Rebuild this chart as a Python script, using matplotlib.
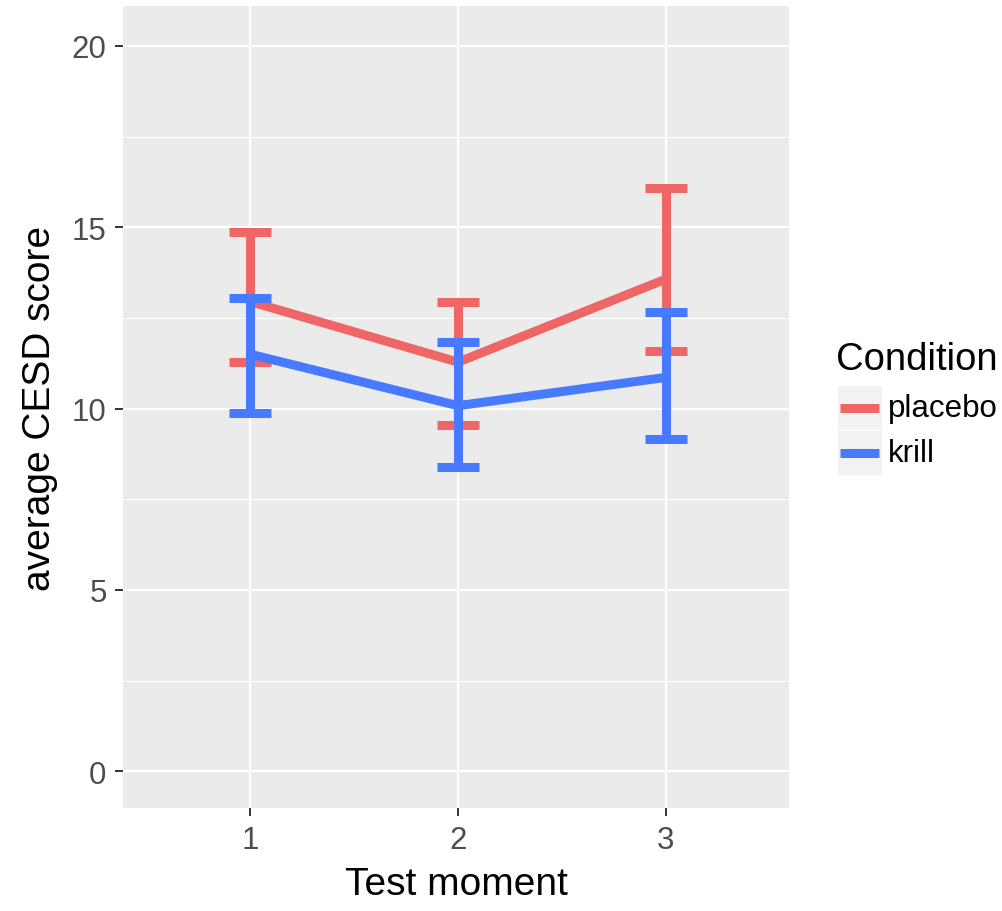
import matplotlib
matplotlib.use("Agg")
import matplotlib.pyplot as plt
from matplotlib.patches import Rectangle
from matplotlib.lines import Line2D

plt.rcParams['font.family'] = ['Liberation Sans', 'DejaVu Sans']

# data
moments = [1, 2, 3]
tick_labels = ['1', '2', '3']
placebo_mean = [12.95, 11.28, 13.57]
placebo_low = [11.28, 9.55, 11.60]
placebo_high = [14.87, 12.93, 16.08]
krill_mean = [11.50, 10.08, 10.86]
krill_low = [9.89, 8.40, 9.17]
krill_high = [13.04, 11.83, 12.65]

red = '#EF6666'
blue = '#487AFF'

fig = plt.figure(figsize=(10.03, 9.12), dpi=100)
ax = fig.add_axes([0.1229, 0.1126, 0.664, 0.8794])
ax.set_facecolor('#EBEBEB')

# grid like ggplot
for v in [2.5, 7.5, 12.5, 17.5]:
    ax.axhline(v, color='white', lw=0.8, zorder=0)
for v in [0, 5, 10, 15, 20]:
    ax.axhline(v, color='white', lw=1.6, zorder=0)
for v in moments:
    ax.axvline(v, color='white', lw=1.6, zorder=0)

lw = 6.5
series = [(placebo_mean, placebo_low, placebo_high, red, 2),
          (krill_mean, krill_low, krill_high, blue, 4)]
for mean, low, high, col, z in series:
    ax.plot(moments, mean, color=col, lw=lw, solid_capstyle='butt', zorder=z)
    err = [[m - l for m, l in zip(mean, low)], [h - m for m, h in zip(mean, high)]]
    ax.errorbar(moments, mean, yerr=err, fmt='none', ecolor=col,
                elinewidth=lw, capsize=15, capthick=lw, zorder=z + 1)

ax.set_xlim(0.39, 3.593)
ax.set_ylim(-1.02, 21.09)
ax.set_xticks(moments)
ax.set_xticklabels(tick_labels)
ax.set_yticks([0, 5, 10, 15, 20])
for s in ax.spines.values():
    s.set_visible(False)
ax.tick_params(axis='both', colors='#333333', length=6, width=1.4,
               labelsize=22.5, labelcolor='#4D4D4D', pad=6)

ax.set_xlabel('Test moment', fontsize=28, color='black', labelpad=8)
ax.set_ylabel('average CESD score', fontsize=28, color='black', labelpad=10)

# legend drawn by hand
W, H = 1003.0, 912.0
fig.text(836 / W, 1 - 360 / H, 'Condition', fontsize=27.5, va='center', ha='left')
keys = [('placebo', red, 386.7), ('krill', blue, 432.0)]
for lab, col, top in keys:
    fig.patches.append(Rectangle((837.7 / W, 1 - (top + 44) / H), 44 / W, 44 / H,
                                 transform=fig.transFigure, facecolor='#F2F2F2',
                                 edgecolor='none'))
    yc = 1 - (top + 22) / H
    fig.lines.append(Line2D([840 / W, 879 / W], [yc, yc], transform=fig.transFigure,
                            color=col, lw=lw, solid_capstyle='butt'))
    fig.text(888 / W, yc, lab, fontsize=22.5, va='center', ha='left', color='black')

fig.savefig('out.png', dpi=100)
